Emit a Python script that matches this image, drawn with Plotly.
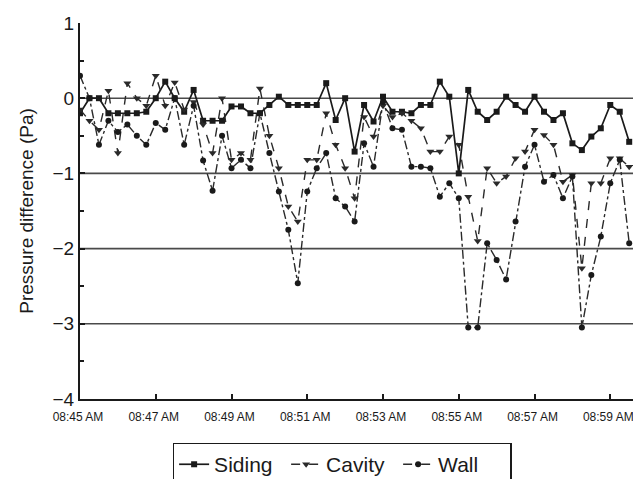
import pandas as pd
import plotly.graph_objects as go

# 15-second samples from 08:45:00
start_time = "2024-01-01 08:45:00"
n_points = 59
times = pd.date_range(start_time, periods=n_points, freq="15s")

siding = [-0.2, 0.0, 0.0, -0.2, -0.2, -0.2, -0.2, -0.18, 0.0, 0.22, 0.0, -0.18, 0.11, -0.3, -0.3, -0.3,
          -0.11, -0.11, -0.2, -0.2, -0.09, 0.02, -0.09, -0.09, -0.09, -0.09, 0.2, -0.29, 0.0, -0.71, -0.09, -0.31, 0.02,
          -0.18, -0.18, -0.2, -0.09, -0.09, 0.22, 0.02, -1.0, 0.11, -0.18, -0.29, -0.18, 0.02, -0.09, -0.18, 0.02,
          -0.18, -0.29, -0.2, -0.6, -0.69, -0.51, -0.4, -0.09, -0.18, -0.58]

cavity = [-0.15, -0.3, -0.42, 0.1, -0.73, 0.2, 0.0, -0.1, 0.3, -0.1, 0.21, -0.15, -0.05, -0.35, -0.73, 0.0,
          -0.82, -0.73, -0.82, 0.13, -0.5, -0.93, -1.44, -1.64, -0.82, -0.82, -0.2, -0.62, -0.93, -1.33, -0.25, -0.51, -0.1,
          -0.25, -0.2, -0.3, -0.4, -0.71, -0.71, -0.51, -0.62, -1.31, -1.9, -0.93, -1.13, -1.04, -0.8, -0.71, -0.42,
          -0.49, -0.62, -1.11, -1.02, -2.26, -1.13, -1.13, -0.8, -0.8, -0.91]

wall = [0.3, 0.0, -0.62, -0.3, -0.45, -0.35, -0.5, -0.62, -0.33, -0.42, 0.0, -0.62, -0.1, -0.83, -1.23, -0.5,
        -0.93, -0.82, -0.93, -0.2, -0.73, -1.24, -1.75, -2.46, -1.24, -0.93, -0.73, -1.33, -1.44, -1.64, -0.6, -0.91, -0.05,
        -0.4, -0.42, -0.91, -0.91, -0.93, -1.31, -1.13, -1.33, -3.05, -3.05, -1.93, -2.15, -2.41, -1.64, -0.91, -0.62,
        -1.11, -1.02, -1.33, -1.04, -3.05, -2.35, -1.84, -1.13, -0.82, -1.93]

grid_values = [0, -1, -2, -3]

fig = go.Figure()
fig.add_trace(go.Scatter(x=times, y=siding, name="Siding", mode="lines+markers",
                         line=dict(color="#1a1a1a", width=1.7),
                         marker=dict(symbol="square", size=6, color="#1a1a1a")))
fig.add_trace(go.Scatter(x=times, y=cavity, name="Cavity", mode="lines+markers",
                         line=dict(color="#2a2a2a", width=1.4, dash="dash"),
                         marker=dict(symbol="triangle-down", size=7, color="#2a2a2a")))
fig.add_trace(go.Scatter(x=times, y=wall, name="Wall", mode="lines+markers",
                         line=dict(color="#2a2a2a", width=1.4, dash="dashdot"),
                         marker=dict(symbol="circle", size=6, color="#1a1a1a")))

for g in grid_values:
    fig.add_shape(type="line", xref="paper", x0=0, x1=1, yref="y", y0=g, y1=g,
                  line=dict(color="#4a4a4a", width=1.6), layer="below")

fig.update_layout(
    width=633, height=479,
    paper_bgcolor="white", plot_bgcolor="white",
    margin=dict(l=80, r=0, t=23, b=80, autoexpand=False),
    font=dict(family="Liberation Sans, Arial, sans-serif", color="#1a1a1a"),
    showlegend=True,
    legend=dict(orientation="h", x=0.474, xanchor="center", y=-0.116, yanchor="top",
                bordercolor="#1a1a1a", borderwidth=1.5, font=dict(size=21),
                itemwidth=30, tracegroupgap=0, entrywidth=67, entrywidthmode="pixels"),
    xaxis=dict(type="date", range=["2024-01-01 08:45:00", "2024-01-01 08:59:36"],
               tick0="2024-01-01 08:45:00", dtick=120000, tickformat="%I:%M %p",
               ticks="inside", ticklen=5, tickcolor="#1a1a1a", tickwidth=1.5,
               showline=True, linecolor="#1a1a1a", linewidth=2,
               ticklabeloverflow="allow", ticklabelstandoff=6, ticklabelshift=-2,
               showgrid=False, zeroline=False, tickfont=dict(size=12)),
    yaxis=dict(range=[-4, 1], dtick=1, tick0=0,
               ticks="inside", ticklen=5, tickcolor="#1a1a1a", tickwidth=1.5,
               minor=dict(ticks="inside", dtick=0.5, ticklen=4, tickcolor="#1a1a1a", showgrid=False),
               showline=True, linecolor="#1a1a1a", linewidth=2,
               showgrid=False, zeroline=False, tickfont=dict(size=19),
               title=dict(text="Pressure difference (Pa)", font=dict(size=19), standoff=14)),
)

fig.write_html("out.html", config={"displayModeBar": False},
               post_script="document.body.style.margin='0';document.body.style.overflow='hidden';")
